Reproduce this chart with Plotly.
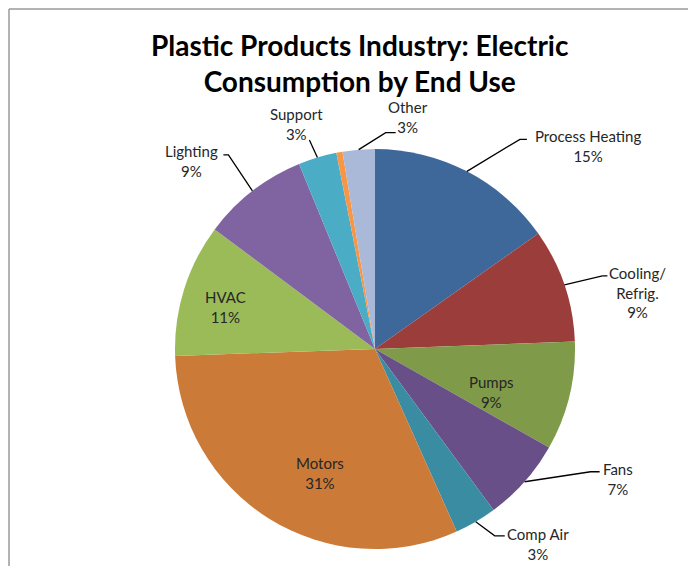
import math
import plotly.graph_objects as go

# ---------------- data ----------------
slice_names = ["Process Heating", "Cooling/Refrig.", "Pumps", "Fans", "Comp Air",
               "Motors", "HVAC", "Lighting", "Support", "Misc", "Other"]
label_text = ["Process Heating", "Cooling/<br>Refrig.", "Pumps", "Fans", "Comp Air",
              "Motors", "HVAC", "Lighting", "Support", "", "Other"]
values = [15.2, 9.2, 8.8, 6.7, 3.4, 31.15, 10.75, 8.6, 3.1, 0.5, 2.6]
title_text = "Plastic Products Industry: Electric<br>Consumption by End Use"

# ---------------- styles ----------------
colors = ["#3F689A", "#9B3D3B", "#7F9A48", "#684F87", "#3A8CA3",
          "#CC7A38", "#9BBB59", "#8064A2", "#4BACC6", "#F79646", "#A9B9D7"]

PAGE_MARGIN = 8            # browser body margin
W, H = 696 - PAGE_MARGIN, 566 - PAGE_MARGIN
CX, CY, R = 375, 349, 200  # pie centre / radius in page pixels

# label centre offsets (px) from the slice's mid-angle edge point
label_off = [(121, -25), (73, 8), (-78, -4), (93, -3), (62, 22),
             (51, -46), (41, 18), (-61, -30), (-21, -33), None, (49, -33)]
# leader line: (elbow offset, end offset) from edge point; None = no leader
leader = [((53, -32), (60, -32)), ((38, -9), (43, -9)), None, ((66, -10), (75, -10)),
          ((19, 14), (29, 14)), None, None, ((-24, -36), (-29, -36)),
          ((-8, -17.5), (-8, -17.5)), None, ((27, -17), (37, -17))]

FONT = "Lato, 'Open Sans', sans-serif"


def px(x):
    return (x - PAGE_MARGIN) / W


def py(y):
    return 1 - (y - PAGE_MARGIN) / H


fig = go.Figure(go.Pie(
    labels=slice_names, values=values, sort=False, direction="clockwise", rotation=0,
    marker=dict(colors=colors, line=dict(width=0)), textinfo="none", hoverinfo="label+percent",
    domain=dict(x=[px(CX - R), px(CX + R)], y=[py(CY + R), py(CY - R)]),
    showlegend=False,
))

total = sum(values)
cum = 0.0
annotations = []
shapes = []
for i, v in enumerate(values):
    a0 = cum / total * 360
    cum += v
    a1 = cum / total * 360
    mid = math.radians((a0 + a1) / 2)
    ex = CX + R * math.sin(mid)
    ey = CY - R * math.cos(mid)
    if label_off[i] is not None:
        pct = round(v / total * 100)
        lx, ly = ex + label_off[i][0], ey + label_off[i][1]
        annotations.append(dict(
            x=px(lx), y=py(ly), xref="paper", yref="paper", showarrow=False,
            text=f"{label_text[i]}<br>{pct}%", align="center",
            font=dict(family=FONT, size=15, color="#262626"),
            xanchor="center", yanchor="middle"))
    if leader[i] is not None:
        (bx, by), (cx2, cy2) = leader[i]
        path = (f"M {px(ex)} {py(ey)} L {px(ex + bx)} {py(ey + by)} "
                f"L {px(ex + cx2)} {py(ey + cy2)}")
        shapes.append(dict(type="path", path=path, xref="paper", yref="paper",
                           line=dict(color="black", width=1.3)))

# chart border (top and left edges visible)
shapes.append(dict(type="line", xref="paper", yref="paper", x0=px(9), y0=py(9), x1=1, y1=py(9),
                   line=dict(color="#9a9a9a", width=1.5)))
shapes.append(dict(type="line", xref="paper", yref="paper", x0=px(9), y0=py(9), x1=px(9), y1=0,
                   line=dict(color="#9a9a9a", width=1.5)))

annotations.append(dict(
    x=px(360), y=py(63), xref="paper", yref="paper", showarrow=False,
    text=f"<b>{title_text}</b>", align="center",
    font=dict(family=FONT, size=28, color="black"),
    xanchor="center", yanchor="middle"))

fig.update_layout(
    width=W, height=H, margin=dict(l=0, r=0, t=0, b=0),
    paper_bgcolor="white", plot_bgcolor="white",
    annotations=annotations, shapes=shapes,
)

fig.write_html("out.html")
